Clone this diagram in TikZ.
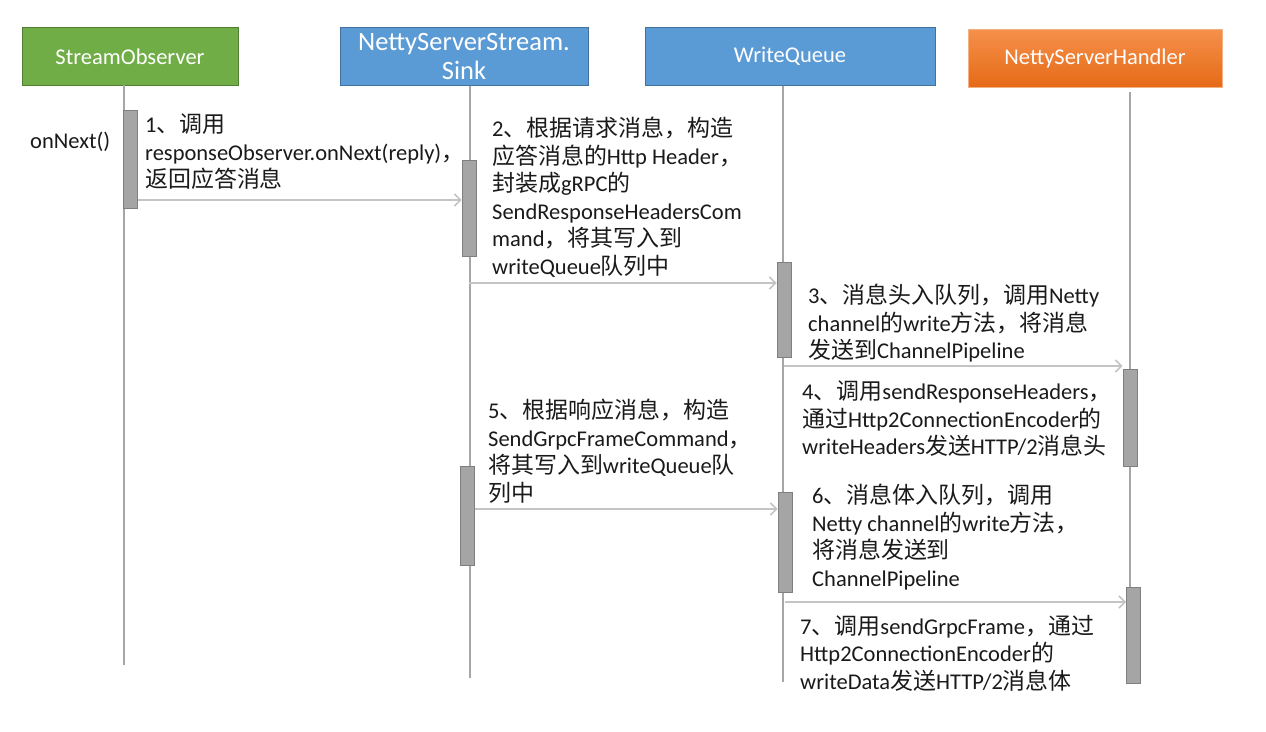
\documentclass[tikz,border=0pt]{standalone}
\usepackage{fontspec}
\setmainfont{Carlito}
\newfontfamily\cjk[Scale=1.02]{Noto Sans CJK SC}
\newcommand\zh[1]{{\cjk #1}}
\usetikzlibrary{arrows.meta}
\definecolor{sogreen}{HTML}{70AD47}
\definecolor{sogreenb}{HTML}{507E32}
\definecolor{skblue}{HTML}{5B9BD5}
\definecolor{skblueb}{HTML}{41719C}
\definecolor{ortop}{HTML}{F5904A}
\definecolor{orbot}{HTML}{E56A17}
\definecolor{orb}{HTML}{F4B183}
\definecolor{lifegray}{HTML}{A6A6A6}
\definecolor{msggray}{HTML}{C4C4C4}
\definecolor{barfill}{HTML}{A5A5A5}
\definecolor{barline}{HTML}{7F7F7F}
\definecolor{txt}{HTML}{1A1A1A}
\tikzset{
  x=1pt, y=-1pt,
  head/.style={minimum height=58pt, inner sep=0pt, text=white, font=\fontsize{22.5}{26}\selectfont, align=center},
  life/.style={draw=lifegray, line width=1.5pt},
  actbar/.style={draw=barline, fill=barfill, line width=1pt, minimum width=14pt, inner sep=0pt},
  msg/.style={draw=msggray, line width=2pt, -{Straight Barb[length=6pt,width=12pt,line width=1.5pt]}},
  lbl/.style={anchor=north west, inner sep=0pt, align=left, text=txt, font=\fontsize{22.5}{27.5}\selectfont},
}
\begin{document}
\begin{tikzpicture}
\useasboundingbox[fill=white] (0,0) rectangle (1266,731);
% heads
\node[head, fill=sogreen, draw=sogreenb, line width=1pt, minimum width=216pt] (so) at (130,56.5) {StreamObserver};
\node[head, fill=skblue, draw=skblueb, line width=1pt, minimum width=248pt, font=\fontsize{26.5}{29}\selectfont] (sk) at (464,56.5) {NettyServerStream.\\Sink};
\node[head, fill=skblue, draw=skblueb, line width=1pt, minimum width=290pt] (wq) at (790,56.5) {WriteQueue};
\node[head, top color=ortop, bottom color=orbot, draw=orb, line width=1pt, minimum width=254pt] (nh) at (1095,58.5) {NettyServerHandler};
% lifeline ends
\coordinate (soT) at (124,85);  \coordinate (soB) at (124,665);
\coordinate (skT) at (470,86);  \coordinate (skB) at (470,678);
\coordinate (wqT) at (783,86);  \coordinate (wqB) at (783,682);
\coordinate (nhT) at (1130,92); \coordinate (nhB) at (1130,682);
\draw[life] (soT) -- (soB);
\draw[life] (skT) -- (skB);
\draw[life] (wqT) -- (wqB);
\draw[life] (nhT) -- (nhB);
% activation bars
\node[actbar, minimum height=98pt] (so1) at (130,159) {};
\node[actbar, minimum height=96pt] (sk1) at (469,208) {};
\node[actbar, minimum height=95pt] (wq1) at (784,309.5) {};
\node[actbar, minimum height=97pt] (nh1) at (1130,417.5) {};
\node[actbar, minimum height=99pt] (sk2) at (467,515.5) {};
\node[actbar, minimum height=100pt] (wq2) at (785,542) {};
\node[actbar, minimum height=96pt] (nh2) at (1133.5,635) {};
% messages
\draw[msg] (so1.east |- 0,200) -- (sk1.west |- 0,200);
\draw[msg] (sk1.south |- 0,283) -- (wq1.west |- 0,283);
\draw[msg] (wq1.south |- 0,366) -- (nh1.west |- 0,366);
\draw[msg] (sk2.east |- 0,509) -- (wq2.west |- 0,509);
\draw[msg] (wq2.south |- 0,602) -- (nh2.west |- 0,602);
% labels
\node[anchor=west, inner sep=0pt, text=txt, font=\fontsize{22.5}{27.5}\selectfont] (on) at (30,142) {onNext()};
\node[lbl] (t1) at (145,114) {1\zh{、调用}\\responseObserver.onNext(reply)\zh{，}\\\zh{返回应答消息}};
\node[lbl] (t2) at (492,117) {2\zh{、根据请求消息，构造}\\\zh{应答消息的}Http Header\zh{，}\\\zh{封装成}gRPC\zh{的}\\SendResponseHeadersCom\\mand\zh{，将其写入到}\\writeQueue\zh{队列中}};
\node[lbl] (t3) at (808,284) {3\zh{、消息头入队列，调用}Netty\\channel\zh{的}write\zh{方法，将消息}\\\zh{发送到}ChannelPipeline};
\node[lbl] (t4) at (802,381) {4\zh{、调用}sendResponseHeaders\zh{，}\\\zh{通过}Http2ConnectionEncoder\zh{的}\\writeHeaders\zh{发送}HTTP/2\zh{消息头}};
\node[lbl] (t5) at (488,399) {5\zh{、根据响应消息，构造}\\SendGrpcFrameCommand\zh{，}\\\zh{将其写入到}writeQueue\zh{队}\\\zh{列中}};
\node[lbl] (t6) at (812,484) {6\zh{、消息体入队列，调用}\\Netty channel\zh{的}write\zh{方法，}\\\zh{将消息发送到}\\ChannelPipeline};
\node[lbl] (t7) at (800,615) {7\zh{、调用}sendGrpcFrame\zh{，通过}\\Http2ConnectionEncoder\zh{的}\\writeData\zh{发送}HTTP/2\zh{消息体}};
\end{tikzpicture}
\end{document}
